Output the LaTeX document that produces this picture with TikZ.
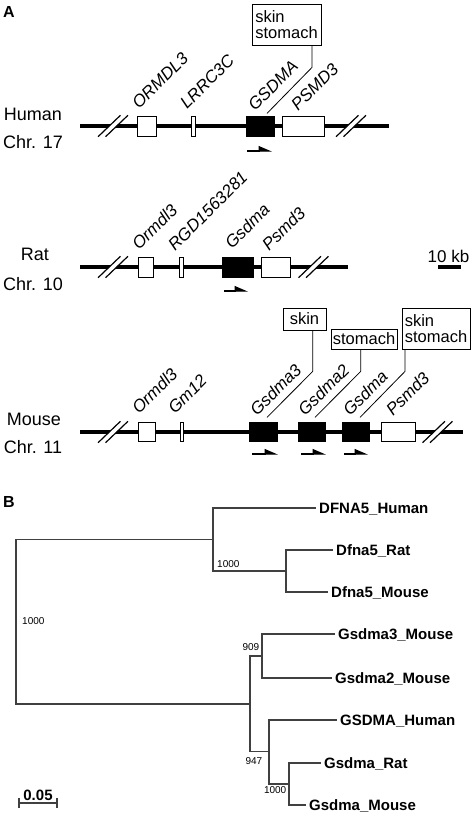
\documentclass[tikz,border=0pt]{standalone}
\usepackage{fontspec}
\setmainfont{Liberation Sans}
\usetikzlibrary{arrows.meta,positioning}

\tikzset{
  chrom/.style={line width=4pt},
  gene/.style={draw, fill=white, line width=1.2pt, minimum height=19.5pt, inner sep=0pt},
  pgene/.style={gene, fill=black},
  glabel/.style={anchor=base west, rotate=45, inner sep=0pt, font=\fontsize{17}{20}\selectfont\itshape},
  tissue/.style={draw, line width=0.8pt, inner sep=0pt, font=\fontsize{16.5}{16}\selectfont},
  lead/.style={line width=0.8pt},
  prom/.style={line width=1.2pt, -{Triangle[left,length=12pt,width=10pt]}},
  species/.style={anchor=base, inner sep=0pt, font=\fontsize{18}{20}\selectfont},
  panel/.style={anchor=base west, inner sep=0pt, font=\fontsize{16}{18}\selectfont\bfseries},
  branch/.style={draw=black!75, line width=1.1pt},
  leaf/.style={anchor=west, inner xsep=3pt, inner ysep=0pt, text height=10.7pt, text depth=0pt, font=\fontsize{15}{17}\selectfont\bfseries},
  boot/.style={inner sep=0pt, font=\fontsize{10}{12}\selectfont},
}

% double slash on a chromosome at (#1,#2)
\newcommand{\chrbrk}[2]{%
  \fill[white] (#1-6.9,#2+3) -- (#1+0.6,#2+3) -- (#1+6.9,#2-3) -- (#1-0.6,#2-3) -- cycle;
  \draw[line width=1.2pt] (#1-14.95,#2+10.7) -- (#1+7.45,#2-10.7);
  \draw[line width=1.2pt] (#1-7.45,#2+10.7) -- (#1+14.95,#2-10.7);
}

\begin{document}
\begin{tikzpicture}[x=1pt,y=-1pt]
\useasboundingbox (0,0) rectangle (474,815);

\node[panel] (labA) at (3,17) {A};

% human
\node[species] (hum) at (33,120) {Human};
\node[species] (humChr) at (33,148) {Chr. 17};
\coordinate (hL) at (80,126);
\coordinate (hR) at (389,126);
\draw[chrom] (hL) -- (hR);
\chrbrk{113}{126}
\chrbrk{351}{126}
\node[gene, minimum width=18.8pt] (hOrm) at (147,126.5) {};
\node[gene, minimum width=3.8pt] (hLrr) at (193.5,126.5) {};
\node[pgene, minimum width=27.8pt] (hGsd) at (260.5,126.5) {};
\node[gene, minimum width=41.8pt] (hPsm) at (303.5,126.5) {};
\node[glabel] (hOrmL) at (139,110) {ORMDL3};
\node[glabel] (hLrrL) at (187,110) {LRRC3C};
\node[glabel] (hGsdL) at (255,112) {GSDMA};
\node[glabel] (hPsmL) at (298,112) {PSMD3};
\draw[prom] (247,151) -- (272,151);
\node[tissue, minimum width=69pt, minimum height=41pt, align=left] (tisH) at (286.5,24.5) {skin\\stomach};
\draw[lead] ([xshift=25.5pt]tisH.south) -- ++(0,22) -- ++(-45,46);

% rat
\node[species] (rat) at (35,260) {Rat};
\node[species] (ratChr) at (33,290) {Chr. 10};
\coordinate (rL) at (80,267);
\coordinate (rR) at (348,267);
\draw[chrom] (rL) -- (rR);
\chrbrk{113}{267}
\chrbrk{313.5}{267}
\node[gene, minimum width=14.8pt] (rOrm) at (146,267.5) {};
\node[gene, minimum width=3.8pt] (rRgd) at (181.5,267.5) {};
\node[pgene, minimum width=30.8pt] (rGsd) at (238,267.5) {};
\node[gene, minimum width=28.8pt] (rPsm) at (276,267.5) {};
\node[glabel] (rOrmL) at (139,251) {Ormdl3};
\node[glabel] (rRgdL) at (175,252) {RGD1563281};
\node[glabel] (rGsdL) at (232,250) {Gsdma};
\node[glabel] (rPsmL) at (269,252) {Psmd3};
\draw[prom] (224,291) -- (248,291);

% scale
\node[species, font=\fontsize{17}{20}\selectfont] (kb) at (448.5,262) {10 kb};
\coordinate (kbL) at (438,267);
\coordinate (kbR) at (461,267);
\draw[chrom] (kbL) -- (kbR);

% mouse
\node[species] (mou) at (34,425) {Mouse};
\node[species] (mouChr) at (33,453) {Chr. 11};
\coordinate (mL) at (80,432);
\coordinate (mR) at (463,432);
\draw[chrom] (mL) -- (mR);
\chrbrk{113}{432}
\chrbrk{437.5}{432}
\node[gene, minimum width=16.8pt] (mOrm) at (147,432) {};
\node[gene, minimum width=3pt] (mGm) at (182,432) {};
\node[pgene, minimum width=27.8pt] (mGsd3) at (263.5,432) {};
\node[pgene, minimum width=26.8pt] (mGsd2) at (312,432) {};
\node[pgene, minimum width=26.8pt] (mGsd) at (356,432) {};
\node[gene, minimum width=33.8pt] (mPsm) at (398.5,432) {};
\node[glabel] (mOrmL) at (139,415) {Ormdl3};
\node[glabel] (mGmL) at (175,415) {Gm12};
\node[glabel] (mGsd3L) at (257,417) {Gsdma3};
\node[glabel] (mGsd2L) at (305,417) {Gsdma2};
\node[glabel] (mGsdL) at (350,417) {Gsdma};
\node[glabel] (mPsmL) at (393,417) {Psmd3};
\draw[prom] (252,454) -- (278,454);
\draw[prom] (301,454) -- (326,454);
\draw[prom] (344,454) -- (368,454);
\node[tissue, minimum width=43pt, minimum height=22pt] (tisM3) at (304.5,319) {skin};
\node[tissue, minimum width=66pt, minimum height=20pt] (tisM2) at (364,339) {stomach};
\node[tissue, minimum width=68pt, minimum height=41pt, align=left] (tisM1) at (436,328.5) {skin\\stomach};
\draw[lead] ([xshift=8.2pt]tisM3.south) -- ++(0,41) -- ++(-45.7,46);
\draw[lead] ([xshift=-3.3pt]tisM2.south) -- ++(0,22) -- ++(-45.7,46);
\draw[lead] ([xshift=-31pt]tisM1.south) -- ++(0,22) -- ++(-45,46);

% tree
\node[panel] (labB) at (3,507) {B};
\coordinate (r) at (16,621.5);
\coordinate (n1) at (213,539.5);
\coordinate (n2) at (286,571);
\coordinate (n3) at (250,704);
\coordinate (n4) at (262,656);
\coordinate (n5) at (269,751.5);
\coordinate (n6) at (289,784);
\node[leaf] (dfnaH) at (316,508) {DFNA5\_Human};
\node[leaf] (dfnaR) at (333,550) {Dfna5\_Rat};
\node[leaf] (dfnaM) at (328,592) {Dfna5\_Mouse};
\node[leaf] (g3M) at (335,634) {Gsdma3\_Mouse};
\node[leaf] (g2M) at (332,678) {Gsdma2\_Mouse};
\node[leaf] (gH) at (337,720) {GSDMA\_Human};
\node[leaf] (gR) at (321,763) {Gsdma\_Rat};
\node[leaf] (gM) at (306,805) {Gsdma\_Mouse};

\draw[branch] (r) |- (n1);
\draw[branch] (r) |- (n3);
\draw[branch] (n1) |- (dfnaH.west);
\draw[branch] (n1) |- (n2);
\draw[branch] (n2) |- (dfnaR.west);
\draw[branch] (n2) |- (dfnaM.west);
\draw[branch] (n3) |- (n4);
\draw[branch] (n3) |- (n5);
\draw[branch] (n4) |- (g3M.west);
\draw[branch] (n4) |- (g2M.west);
\draw[branch] (n5) |- (gH.west);
\draw[branch] (n5) |- (n6);
\draw[branch] (n6) |- (gR.west);
\draw[branch] (n6) |- (gM.west);

\node[boot, anchor=west] (b0) at (22,621) {1000};
\node[boot, anchor=west] (b1) at (217,564) {1000};
\node[boot, anchor=east] (b4) at (259.5,647) {909};
\node[boot, anchor=east] (b5) at (262.5,761) {947};
\node[boot, anchor=east] (b6) at (286.5,790) {1000};

\coordinate (s0) at (19,803);
\coordinate (s1) at (57,803);
\draw[branch] (s0) -- (s1);
\draw[branch] ([yshift=5pt]s0) -- ([yshift=-5pt]s0);
\draw[branch] ([yshift=5pt]s1) -- ([yshift=-5pt]s1);
\node[anchor=base, inner sep=0pt, font=\fontsize{15}{17}\selectfont\bfseries] (sLab) at (38,800) {0.05};
\end{tikzpicture}
\end{document}
